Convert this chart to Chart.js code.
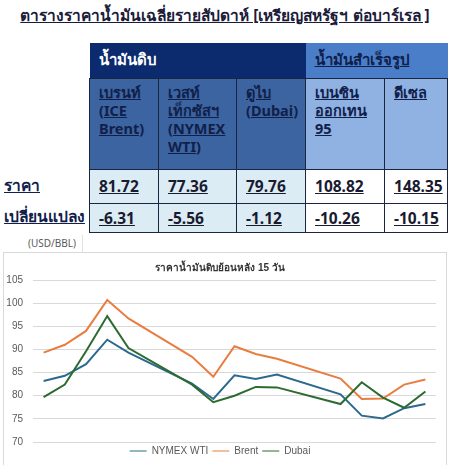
<!DOCTYPE html>
<html>
<head>
<meta charset="utf-8">
<script src="https://cdn.jsdelivr.net/npm/chart.js@4"></script>
<style>
  body { margin: 0; width: 450px; height: 465px; position: relative; overflow: hidden; background: #fff;
         font-family: "Noto Sans", "DejaVu Sans", sans-serif; }
  #title { position: absolute; top: 3px; left: 0; width: 450px; text-align: center; font-weight: bold;
           font-size: 15.5px; color: #1b1b3a; text-decoration: underline; white-space: nowrap; }
  table { position: absolute; left: 89px; top: 43px; border-collapse: collapse; table-layout: fixed; width: 358px; }
  td { vertical-align: top; padding: 0 0 0 9px; font-weight: bold; border: 1px solid #1c2540; box-sizing: border-box; }
  .h1 td { vertical-align: middle; font-size: 15px; border: none; }
  .h2 td { font-size: 14.5px; line-height: 18px; padding-top: 4px; text-decoration: underline; color: #10204a; }
  .d td { font-size: 15.5px; text-decoration: underline; color: #1a1a30; vertical-align: middle; }
  .crude { background: #3c64a0; }
  .prod { background: #8fb2e3; }
  .dc { background: #dcecf4; }
  .dp { background: #fff; }
  .rowlab { position: absolute; left: 4px; font-weight: bold; font-size: 15.5px; color: #10204a; text-decoration: underline; }
  #unit { position: absolute; left: 0; top: 235px; width: 76px; height: 17px; padding-right: 6px; border-right: 1px solid #e2e2e2;
          font-size: 10px; color: #595959; text-align: right; line-height: 17px; }
  #box { position: absolute; left: 3px; top: 252px; width: 442px; height: 213px; border: 1px solid #d9d9d9; border-bottom: none; }
  canvas { display: block; }
</style>
</head>
<body>
<div id="title">ตารางราคาน้ำมันเฉลี่ยรายสัปดาห์ [เหรียญสหรัฐฯ ต่อบาร์เรล ]</div>
<table>
  <colgroup><col style="width:69px"><col style="width:78px"><col style="width:69px"><col style="width:79px"><col style="width:63px"></colgroup>
  <tr class="h1" style="height:35px">
    <td colspan="3" style="background:#0c2a6e;color:#fff;">น้ำมันดิบ</td>
    <td colspan="2" style="background:#4a7ec9;color:#10204a;text-decoration:underline;">น้ำมันสำเร็จรูป</td>
  </tr>
  <tr class="h2" style="height:91px">
    <td class="crude">เบรนท์<br>(ICE<br>Brent)</td>
    <td class="crude">เวสท์<br>เท็กซัสฯ<br>(NYMEX<br>WTI)</td>
    <td class="crude">ดูไบ<br>(Dubai)</td>
    <td class="prod">เบนซิน<br>ออกเทน<br>95</td>
    <td class="prod">ดีเซล</td>
  </tr>
  <tr class="d" style="height:34px">
    <td class="dc">81.72</td><td class="dc">77.36</td><td class="dc">79.76</td><td class="dp">108.82</td><td class="dp">148.35</td>
  </tr>
  <tr class="d" style="height:29px">
    <td class="dc">-6.31</td><td class="dc">-5.56</td><td class="dc">-1.12</td><td class="dp">-10.26</td><td class="dp">-10.15</td>
  </tr>
</table>
<div class="rowlab" style="top:173px">ราคา</div>
<div class="rowlab" style="top:204px">เปลี่ยนแปลง</div>
<div id="unit">(USD/BBL)</div>
<div id="box"><canvas id="oilChart"></canvas></div>

<script>
// 19 calendar slots, weekends left empty
const days = ['1', '2', '3', '4', '5', '6', '7', '8', '9', '10', '11', '12', '13', '14', '15', '16', '17', '18', '19'];
const wti = [83.2, 84.3, 86.8, 92.1, 89.3, null, null, 82.6, 79.3, 84.4, 83.6, 84.6, null, null, 80.3, 75.7, 75.1, 77.3, 78.2];
const brent = [89.3, 91.0, 94.0, 100.7, 96.7, null, null, 88.4, 84.1, 90.7, 89.0, 88.0, null, null, 83.7, 79.3, 79.4, 82.4, 83.5];
const dubai = [79.7, 82.4, 89.6, 97.2, 90.3, null, null, 82.4, 78.6, 80.0, 81.9, 81.8, null, null, 78.2, 82.9, 79.6, 77.4, 80.9];
const yTicks = [70, 75, 80, 85, 90, 95, 100, 105];

document.addEventListener('DOMContentLoaded', function() {
    const canvas = document.getElementById('oilChart');
    canvas.width = 442;
    canvas.height = 213;

    const ctx = canvas.getContext('2d');
    new Chart(ctx, {
        type: 'line',
        data: {
            labels: days,
            datasets: [
                { label: 'NYMEX WTI', data: wti, borderColor: '#2b6a8e', backgroundColor: '#2b6a8e', order: 3 },
                { label: 'Brent', data: brent, borderColor: '#e97d3f', backgroundColor: '#e97d3f', order: 2 },
                { label: 'Dubai', data: dubai, borderColor: '#2c6b2f', backgroundColor: '#2c6b2f', order: 1 }
            ]
        },
        options: {
            responsive: false,
            animation: false,
            spanGaps: true,
            elements: {
                line: { borderWidth: 2, tension: 0 },
                point: { radius: 0 }
            },
            layout: { padding: { left: 0, right: 10, top: 5, bottom: 0 } },
            plugins: {
                title: {
                    display: true,
                    text: 'ราคาน้ำมันดิบย้อนหลัง 15 วัน',
                    color: '#333',
                    font: { size: 10, weight: 'bold' },
                    padding: { top: 4, bottom: 6 }
                },
                legend: {
                    position: 'bottom',
                    labels: {
                        usePointStyle: true,
                        pointStyle: 'line',
                        pointStyleWidth: 17,
                        boxHeight: 10,
                        color: '#595959',
                        font: { size: 10 },
                        padding: 4,
                        sort: (a, b) => a.datasetIndex - b.datasetIndex
                    }
                },
                tooltip: { enabled: false }
            },
            scales: {
                x: {
                    display: false,
                    offset: true
                },
                y: {
                    min: 70,
                    max: 105,
                    afterBuildTicks: function(axis) {
                        axis.ticks = yTicks.map(v => ({ value: v }));
                    },
                    afterFit: function(axis) {
                        axis.width = 29;
                    },
                    grid: { color: '#d9d9d9', drawTicks: false },
                    border: { display: false },
                    ticks: { color: '#595959', font: { size: 10 }, padding: 10 }
                }
            }
        }
    });
});
</script>
</body>
</html>
